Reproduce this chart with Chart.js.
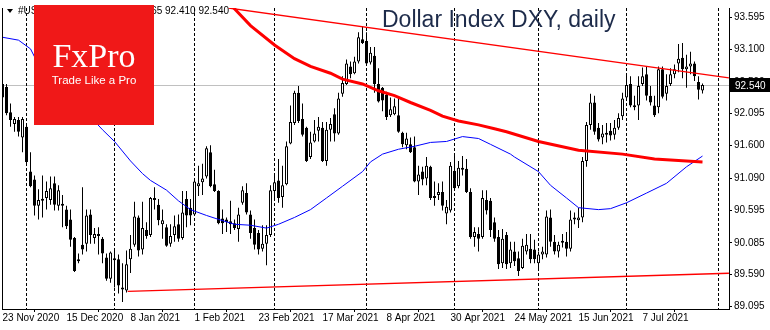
<!DOCTYPE html>
<html>
<head>
<meta charset="utf-8">
<script src="https://cdn.jsdelivr.net/npm/chart.js"></script>
<style>
  html, body { margin: 0; padding: 0; background: #fff; }
</style>
</head>
<body>
<canvas id="chart-container" width="770" height="330"></canvas>
<script>
// Dollar index, daily candles. bar 0 = 23 Nov 2020
var opens = [
  92.345, 92.512, 92.118, 91.936, 91.996, 91.724, 91.891, 91.194, 91.072, 90.664,
  90.769, 90.784, 90.754, 91.012, 90.664, 90.694, 90.603, 90.451, 90.163, 89.815,
  90.058, 90.073, 90.527, 90.163, 90.209, 90.148, 89.860, 89.527, 89.845, 89.830,
  89.391, 89.345, 89.830, 90.058, 90.481, 89.981, 90.285, 90.209, 90.769, 90.679,
  90.375, 90.330, 90.073, 90.209, 90.375, 90.163, 90.769, 90.633, 90.527, 90.966,
  91.027, 91.118, 91.497, 90.997, 90.891, 90.466, 90.451, 90.421, 90.390, 90.300,
  90.709, 90.860, 90.527, 90.315, 90.239, 89.996, 90.073, 90.209, 90.891, 91.057,
  90.799, 90.997, 91.633, 91.951, 92.421, 92.011, 91.875, 91.421, 91.663, 91.830,
  91.875, 91.360, 91.845, 92.088, 91.785, 92.406, 92.557, 92.830, 92.724, 92.906,
  93.254, 93.224, 92.891, 92.997, 92.557, 92.497, 92.390, 92.072, 92.088, 92.072,
  91.800, 91.603, 91.618, 91.572, 91.042, 91.194, 91.087, 91.269, 90.815, 90.830,
  90.875, 90.542, 90.588, 91.209, 90.966, 91.254, 91.239, 90.875, 90.178, 90.224,
  90.178, 90.754, 90.739, 90.406, 90.178, 89.770, 90.209, 89.770, 89.951, 89.845,
  89.694, 89.951, 89.996, 89.981, 89.770, 89.906, 89.906, 90.481, 90.103, 89.951,
  90.088, 90.103, 89.996, 90.451, 90.436, 90.481, 91.360, 91.921, 92.269, 91.875,
  91.724, 91.800, 91.830, 91.769, 91.875, 92.057, 92.345, 92.557, 92.224, 92.224,
  92.557, 92.709, 92.375, 92.224, 92.194, 92.785, 92.406, 92.557, 92.709, 92.875,
  92.966, 92.785, 92.830, 92.875, 92.587, 92.455
];
var highs = [
  92.785, 92.557, 92.254, 92.042, 92.042, 92.042, 91.906, 91.497, 91.133, 90.921,
  91.133, 91.042, 91.118, 91.118, 90.982, 90.830, 90.664, 90.603, 90.178, 89.921,
  90.951, 90.603, 90.603, 90.315, 90.330, 90.178, 89.921, 89.951, 89.996, 89.906,
  89.770, 89.966, 90.209, 90.724, 90.512, 90.724, 90.406, 90.799, 90.951, 90.769,
  90.603, 90.375, 90.375, 90.512, 90.527, 90.891, 90.891, 90.769, 91.057, 91.285,
  91.315, 91.588, 91.603, 91.224, 90.906, 90.603, 90.481, 90.739, 90.451, 90.633,
  90.966, 91.012, 90.588, 90.451, 90.285, 90.360, 90.360, 90.982, 91.163, 91.391,
  91.285, 91.663, 92.224, 92.451, 92.527, 92.254, 91.891, 91.815, 91.996, 92.042,
  91.966, 91.966, 92.027, 92.178, 92.421, 92.678, 92.936, 92.906, 92.981, 93.360,
  93.451, 93.360, 93.133, 93.133, 92.800, 92.512, 92.436, 92.345, 92.330, 92.345,
  91.815, 91.800, 91.724, 91.739, 91.285, 91.269, 91.421, 91.285, 91.042, 91.012,
  91.042, 90.754, 91.345, 91.436, 91.360, 91.436, 91.391, 90.936, 90.330, 90.330,
  90.906, 90.906, 90.784, 90.481, 90.285, 90.300, 90.254, 90.103, 90.103, 89.951,
  90.148, 90.224, 90.224, 90.133, 89.951, 90.027, 90.588, 90.603, 90.209, 90.103,
  90.224, 90.254, 90.588, 90.557, 90.633, 91.421, 91.966, 92.406, 92.375, 91.951,
  91.921, 91.951, 91.951, 91.996, 92.103, 92.421, 92.709, 92.678, 92.375, 92.678,
  92.815, 92.830, 92.527, 92.375, 92.830, 92.830, 92.709, 92.800, 92.860, 93.178,
  93.194, 93.012, 93.057, 92.906, 92.678, 92.565
];
var lows = [
  91.996, 92.072, 91.891, 91.815, 91.739, 91.497, 91.315, 90.951, 90.512, 90.451,
  90.481, 90.603, 90.679, 90.588, 90.588, 90.330, 90.300, 90.027, 89.633, 89.770,
  89.906, 89.951, 90.073, 90.073, 89.906, 89.770, 89.497, 89.467, 89.391, 89.300,
  89.164, 89.315, 89.618, 90.027, 89.875, 89.906, 90.148, 90.178, 90.603, 90.360,
  90.148, 90.027, 90.027, 90.103, 90.103, 90.133, 90.330, 90.360, 90.512, 90.815,
  90.830, 91.087, 90.951, 90.875, 90.375, 90.224, 90.254, 90.224, 90.285, 90.103,
  90.679, 90.527, 90.148, 89.981, 89.906, 89.951, 89.739, 90.178, 90.784, 90.709,
  90.633, 90.982, 91.618, 91.921, 91.951, 91.739, 91.345, 91.391, 91.648, 91.663,
  91.345, 91.285, 91.663, 91.663, 91.769, 92.360, 92.542, 92.648, 92.709, 92.875,
  93.178, 92.860, 92.860, 92.421, 92.269, 92.133, 91.996, 92.042, 92.072, 91.800,
  91.572, 91.542, 91.482, 91.027, 90.830, 90.982, 90.982, 90.754, 90.664, 90.754,
  90.588, 90.375, 90.557, 90.906, 90.936, 91.133, 90.860, 90.148, 90.027, 89.951,
  90.148, 90.527, 90.178, 90.103, 89.679, 89.694, 89.679, 89.694, 89.724, 89.572,
  89.679, 89.906, 89.770, 89.770, 89.648, 89.830, 89.860, 90.027, 89.906, 89.860,
  90.012, 89.875, 89.951, 90.375, 90.315, 90.406, 91.269, 91.845, 91.769, 91.663,
  91.618, 91.648, 91.679, 91.694, 91.845, 91.996, 92.300, 92.194, 92.148, 91.996,
  92.527, 92.300, 92.224, 92.042, 92.103, 92.330, 92.300, 92.527, 92.648, 92.739,
  92.648, 92.497, 92.709, 92.603, 92.315, 92.410
];
var closes = [
  92.557, 92.103, 91.996, 92.011, 91.815, 92.011, 91.345, 90.966, 90.664, 90.754,
  90.739, 90.891, 90.936, 90.679, 90.906, 90.664, 90.345, 90.133, 89.648, 89.800,
  89.981, 90.512, 90.209, 90.224, 90.194, 89.921, 89.527, 89.936, 89.815, 89.421,
  89.360, 89.755, 89.996, 90.497, 89.966, 90.315, 90.194, 90.784, 90.754, 90.436,
  90.436, 90.042, 90.194, 90.345, 90.148, 90.557, 90.512, 90.512, 91.042, 91.012,
  91.087, 91.557, 90.966, 90.891, 90.390, 90.390, 90.406, 90.375, 90.315, 90.527,
  90.906, 90.557, 90.239, 90.058, 89.981, 90.073, 90.209, 90.906, 91.027, 90.784,
  90.982, 91.588, 91.966, 92.421, 91.981, 91.769, 91.360, 91.648, 91.785, 91.891,
  91.360, 91.845, 91.936, 91.785, 92.330, 92.572, 92.875, 92.709, 92.906, 93.284,
  93.194, 92.875, 93.042, 92.557, 92.284, 92.300, 92.042, 92.163, 92.209, 91.815,
  91.618, 91.709, 91.497, 91.042, 91.148, 91.072, 91.285, 90.784, 90.784, 90.875,
  90.664, 90.648, 91.285, 90.936, 91.254, 91.224, 90.875, 90.178, 90.254, 90.148,
  90.784, 90.588, 90.285, 90.148, 89.755, 90.148, 89.755, 89.981, 89.800, 89.648,
  90.042, 90.058, 89.830, 89.830, 89.906, 89.951, 90.497, 90.103, 89.951, 90.058,
  90.103, 89.996, 90.451, 90.481, 90.481, 91.360, 91.921, 92.269, 91.815, 91.694,
  91.785, 91.769, 91.754, 91.875, 92.027, 92.330, 92.542, 92.224, 92.194, 92.527,
  92.678, 92.375, 92.269, 92.072, 92.785, 92.360, 92.527, 92.709, 92.785, 92.951,
  92.785, 92.830, 92.875, 92.678, 92.466, 92.540
];

// x axis labels (bar index of each label)
var xTickIdx = [0, 16, 32, 48, 64, 80, 96, 112, 128, 144, 160];
var xTickLabels = ['23 Nov 2020', '15 Dec 2020', '8 Jan 2021', '1 Feb 2021', '23 Feb 2021',
  '17 Mar 2021', '8 Apr 2021', '30 Apr 2021', '24 May 2021', '15 Jun 2021', '7 Jul 2021'];
var yTickVals = [93.595, 93.100, 92.590, 92.095, 91.600, 91.090, 90.595, 90.085, 89.590, 89.095];
// first bar of each month (period separators)
var monthStarts = [6, 28, 48, 68, 91, 113, 134, 156, 179];

// moving averages
var blueMaIdx = [0, 4, 7, 8, 25, 28, 32, 35, 37, 41, 44, 47, 51, 54, 58, 62, 66, 69, 73, 77,
  81, 85, 90, 92, 95, 99, 103, 107, 111, 115, 119, 122, 127, 128, 134, 137, 141, 144, 149, 152,
  156, 161, 166, 171, 175];
var blueMaVals = [93.284, 93.239, 93.103, 92.981, 91.845, 91.663, 91.360, 91.163, 91.057, 90.906,
  90.739, 90.603, 90.512, 90.451, 90.375, 90.360, 90.315, 90.375, 90.481, 90.603,
  90.784, 90.966, 91.194, 91.345, 91.466, 91.542, 91.588, 91.648, 91.663, 91.739,
  91.709, 91.618, 91.466, 91.421, 91.194, 90.981, 90.784, 90.633, 90.603, 90.618,
  90.709, 90.860, 91.012, 91.269, 91.436];
var redMaIdx = [57.5, 62, 68, 73, 77, 82, 85, 90, 94, 98, 102, 107, 110, 114, 119, 123, 126,
  134, 144, 155, 163, 175];
var redMaVals = [93.76, 93.466, 93.163, 92.951, 92.830, 92.724, 92.633, 92.557, 92.451,
  92.375, 92.269, 92.148, 92.057, 91.981, 91.921, 91.860, 91.815, 91.663, 91.527,
  91.466, 91.391, 91.345];

// hand drawn trend lines
var topLineIdx = [56.5, 181.6];
var topLineVals = [93.739, 92.653];
var lowLineIdx = [31.3, 181.6];
var lowLineVals = [89.330, 89.613];

var lastPrice = 92.540;

function pts(xs, ys) {
  return xs.map(function (x, k) { return { x: x, y: ys[k] }; });
}

var overlay = {
  id: 'overlay',
  beforeDatasetsDraw: function (chart) {
    var ctx = chart.ctx, a = chart.chartArea;
    var xs = chart.scales.x, ys = chart.scales.y;
    ctx.save();
    var py = Math.round(ys.getPixelForValue(lastPrice)) + 0.5;
    ctx.strokeStyle = '#c0c0c0';
    ctx.lineWidth = 1;
    ctx.beginPath();
    ctx.moveTo(a.left, py);
    ctx.lineTo(a.right, py);
    ctx.stroke();

    ctx.strokeStyle = '#000';
    ctx.setLineDash([3, 2]);
    monthStarts.forEach(function (m) {
      var px = xs.getPixelForValue(m);
      ctx.beginPath();
      ctx.moveTo(px, a.top);
      ctx.lineTo(px, a.bottom);
      ctx.stroke();
    });
    ctx.restore();
  },
  afterDraw: function (chart) {
    var ctx = chart.ctx, a = chart.chartArea;
    var ys = chart.scales.y;
    ctx.save();
    // left frame
    ctx.strokeStyle = '#000';
    ctx.lineWidth = 1;
    ctx.beginPath();
    ctx.moveTo(a.left + 0.5, a.top);
    ctx.lineTo(a.left + 0.5, a.bottom);
    ctx.stroke();

    // header line
    ctx.fillStyle = '#000';
    ctx.beginPath();
    ctx.moveTo(7, 9);
    ctx.lineTo(13, 9);
    ctx.lineTo(10, 13);
    ctx.closePath();
    ctx.fill();
    ctx.font = '10px "Liberation Sans"';
    ctx.textBaseline = 'alphabetic';
    ctx.textAlign = 'left';
    ctx.fillText('#USDX,Daily', 18, 14);
    ctx.textAlign = 'right';
    ctx.fillText('92.455 92.565 92.410 92.540', 229, 14);

    // title
    ctx.textAlign = 'left';
    ctx.fillStyle = '#1d2b4a';
    ctx.font = '23px "Liberation Sans"';
    ctx.fillText('Dollar Index DXY, daily', 382, 27);

    // logo
    ctx.fillStyle = '#f01818';
    ctx.fillRect(34, 5, 120, 120);
    ctx.fillStyle = '#fff';
    ctx.textAlign = 'center';
    ctx.font = '34px "Liberation Serif"';
    ctx.fillText('FxPro', 94, 67);
    ctx.font = '11.5px "Liberation Sans"';
    ctx.fillText('Trade Like a Pro', 94, 84);

    // last price box
    var py = Math.round(ys.getPixelForValue(lastPrice));
    ctx.fillStyle = '#000';
    ctx.fillRect(a.right + 1, py - 7, 40, 14);
    ctx.fillStyle = '#fff';
    ctx.textAlign = 'left';
    ctx.textBaseline = 'middle';
    ctx.font = '10px "Liberation Sans"';
    ctx.fillText(lastPrice.toFixed(3), a.right + 6, py + 1);
    ctx.restore();
  }
};

var wicks = opens.map(function (o, i) { return { x: i, y: [lows[i], highs[i]] }; });
var bodies = opens.map(function (o, i) { return { x: i, y: [o, closes[i]] }; });
var bodyColors = opens.map(function (o, i) { return closes[i] >= o ? '#ffffff' : '#000000'; });

var tickFont = { family: 'Liberation Sans', size: 10 };

var ctx = document.getElementById('chart-container').getContext('2d');
var myChart = new Chart(ctx, {
  type: 'bar',
  data: {
    datasets: [
      { type: 'line', data: pts(redMaIdx, redMaVals), borderColor: '#ff0000', borderWidth: 3,
        pointRadius: 0, tension: 0, order: 0, clip: 0 },
      { type: 'line', data: pts(blueMaIdx, blueMaVals), borderColor: '#0000ff', borderWidth: 1,
        pointRadius: 0, tension: 0, order: 0, clip: 0 },
      { type: 'line', data: pts(topLineIdx, topLineVals), borderColor: '#ff0000', borderWidth: 1.3,
        pointRadius: 0, tension: 0, order: 0, clip: 0 },
      { type: 'line', data: pts(lowLineIdx, lowLineVals), borderColor: '#ff0000', borderWidth: 1.3,
        pointRadius: 0, tension: 0, order: 0, clip: 0 },
      { data: bodies, backgroundColor: bodyColors, borderColor: '#000', borderWidth: 1,
        borderSkipped: false, barThickness: 3, minBarLength: 2, grouped: false,
        inflateAmount: 0, order: 1 },
      { data: wicks, backgroundColor: '#000', borderWidth: 0, barThickness: 1,
        grouped: false, inflateAmount: 0, order: 2 }
    ]
  },
  options: {
    responsive: false,
    devicePixelRatio: 1,
    animation: false,
    events: [],
    layout: { padding: { left: 2, top: 0, right: 0, bottom: 0 } },
    plugins: { legend: { display: false }, tooltip: { enabled: false } },
    scales: {
      x: {
        type: 'linear',
        min: -0.125,
        max: 181.625,
        offset: false,
        afterBuildTicks: function (scale) {
          scale.ticks = xTickIdx.map(function (v) { return { value: v }; });
        },
        afterFit: function (scale) { scale.height = 21; },
        grid: { drawOnChartArea: false, tickLength: 3, color: '#000' },
        border: { display: true, color: '#000' },
        ticks: {
          align: 'start', padding: 0, maxRotation: 0, autoSkip: false, color: '#000', font: tickFont,
          callback: function (v) {
            var k = xTickIdx.indexOf(v);
            return k >= 0 ? xTickLabels[k] : '';
          }
        }
      },
      y: {
        position: 'right',
        min: 89.057,
        max: 93.739,
        afterBuildTicks: function (scale) {
          scale.ticks = yTickVals.map(function (v) { return { value: v }; });
        },
        afterFit: function (scale) { scale.width = 41; },
        grid: { drawOnChartArea: false, tickLength: 3, color: '#000' },
        border: { display: true, color: '#000' },
        ticks: {
          padding: 2, autoSkip: false, color: '#000', font: tickFont,
          callback: function (v) { return Number(v).toFixed(3); }
        }
      }
    }
  },
  plugins: [overlay]
});
</script>
</body>
</html>
